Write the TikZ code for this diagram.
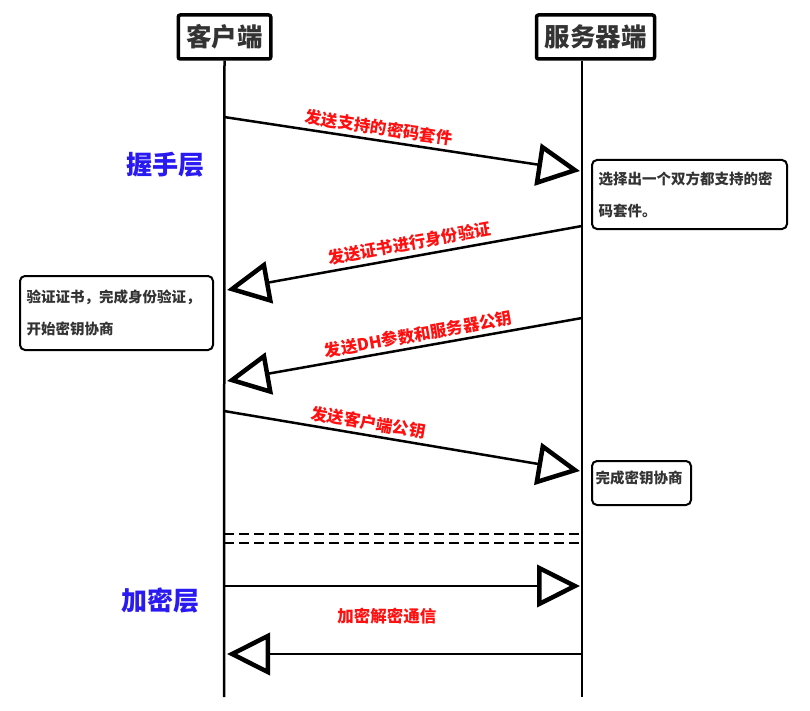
\documentclass[tikz,border=0pt]{standalone}
\usepackage{fontspec}
\setmainfont{Noto Sans CJK SC}
\usetikzlibrary{arrows.meta,positioning}
\definecolor{seqInk}{HTML}{333333}
\definecolor{seqRed}{HTML}{FF1010}
\definecolor{seqBlue}{HTML}{2A1AF2}
\begin{document}
\begin{tikzpicture}[x=1pt,y=-1pt,line join=miter]
\useasboundingbox[fill=white] (0,0) rectangle (810,711);
\tikzset{head/.style={draw=black,line width=3.5pt,rounded corners=2pt,fill=white,text=seqInk,font=\bfseries\fontsize{25.5}{28}\selectfont,minimum height=44pt,inner xsep=8pt},life/.style={draw=black,line width=2.5pt},msg/.style={draw=black,line width=2.5pt,-{Triangle[open,length=43pt,width=42pt,line width=4.5pt]}},tag/.style={text=seqRed,font=\bfseries\fontsize{16.5}{18}\selectfont},layer/.style={text=seqBlue,font=\bfseries\fontsize{26}{28}\selectfont},note/.style={draw=black,line width=2pt,rounded corners=5pt,fill=white,text=seqInk,font=\bfseries\fontsize{14.5}{32}\selectfont,align=left,inner xsep=0pt}}
\node[head] (client) at (224.5,37) {客户端};
\node[head] (server) at (595.5,37) {服务器端};
\coordinate (cEnd) at (224,697); \coordinate (sEnd) at (582,697);
\draw[life] (client.south) -- (cEnd);
\draw[life] (server.south -| sEnd) -- (sEnd);
% handshake messages
\coordinate (c1) at (224,117); \coordinate (s1) at (580,171);
\coordinate (s2) at (582,226); \coordinate (c2) at (227,290);
\coordinate (s3) at (582,318); \coordinate (c3) at (227,381);
\coordinate (c4) at (224,411); \coordinate (s4) at (580,471);
\draw[msg] (c1) -- node[tag,sloped,above=0pt,pos=.43] {发送支持的密码套件} (s1);
\draw[msg] (s2) -- node[tag,sloped,above=1pt,pos=.48] {发送证书进行身份验证} (c2);
\draw[msg] (s3) -- node[tag,sloped,above=0pt,pos=.455] {发送DH参数和服务器公钥} (c3);
\draw[msg] (c4) -- node[tag,sloped,above=0pt,pos=.40] {发送客户端公钥} (s4);
\node[note,minimum width=195pt,minimum height=69pt,text width=182pt] (pick) at (689.5,194.5) {选择出一个双方都支持的密\\码套件。};
\node[note,minimum width=193pt,minimum height=74pt,text width=180pt] (verify) at (116.5,313) {验证证书，完成身份验证，\\开始密钥协商};
\node[note,minimum width=99pt,minimum height=44pt,text width=92pt,text depth=12pt] (agree) at (641.5,483) {完成密钥协商};
\node[layer] (hand) at (165,165) {握手层};
% separator
\coordinate (d1) at (224,534); \coordinate (d2) at (582,534);
\coordinate (d3) at (224,543); \coordinate (d4) at (582,543);
\draw[line width=2.5pt,dash pattern=on 10pt off 5pt] (d1) -- (d2);
\draw[line width=2.5pt,dash pattern=on 10pt off 5pt] (d3) -- (d4);
% record layer
\node[layer] (crypt) at (160,601) {加密层};
\coordinate (c5) at (224,586); \coordinate (s5) at (580,586);
\coordinate (s6) at (582,654); \coordinate (c6) at (227,654);
\draw[msg] (c5) -- (s5);
\draw[msg] (s6) -- node[tag,above=25pt,pos=.55] {加密解密通信} (c6);
\end{tikzpicture}
\end{document}
